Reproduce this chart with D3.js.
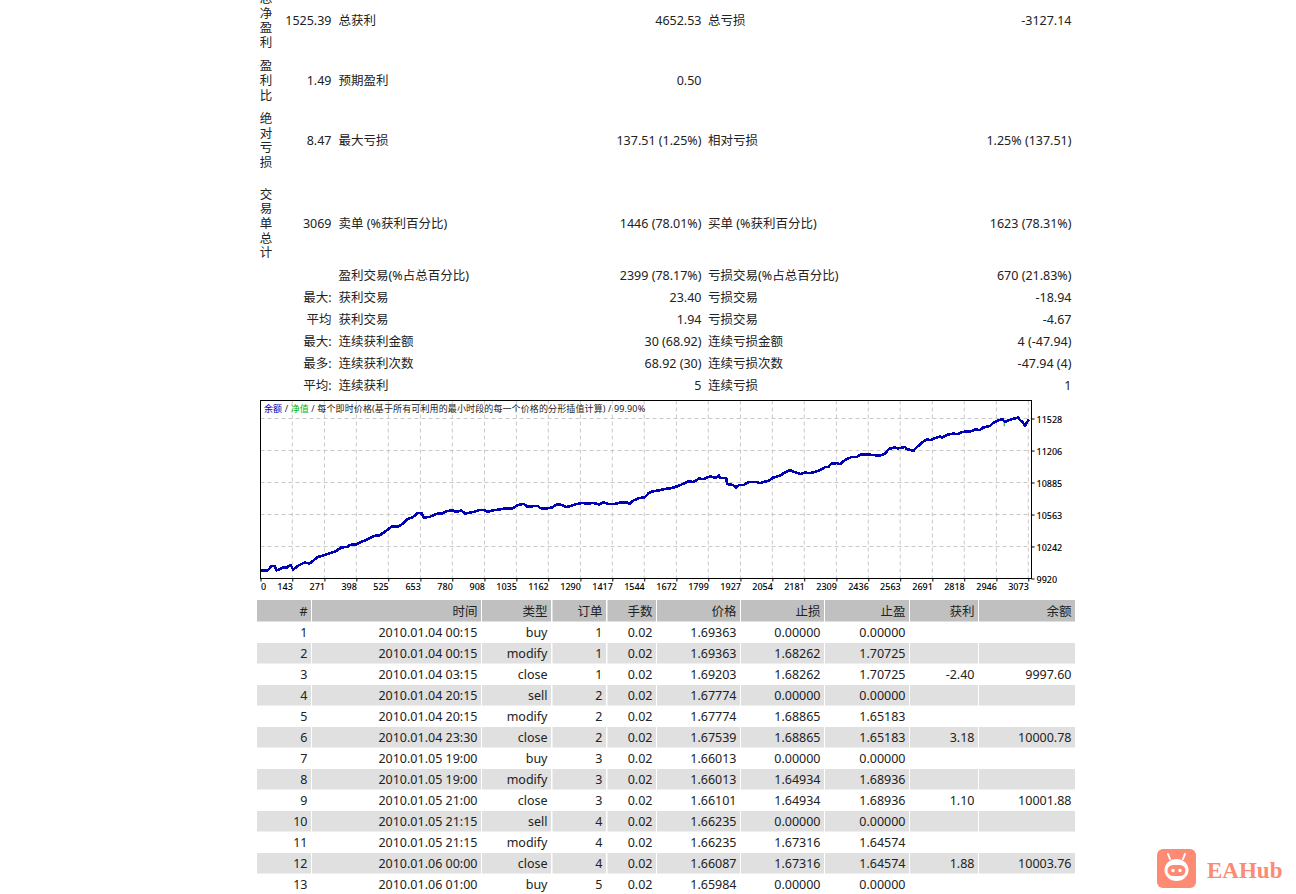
<!DOCTYPE html>
<html>
<head>
<meta charset="utf-8">
<script src="https://cdn.jsdelivr.net/npm/d3@7/dist/d3.min.js"></script>
<style>
html, body { margin: 0; padding: 0; background: #fff; overflow: hidden; }
svg { display: block; }
text { font-family: "Noto Sans", "Noto Sans CJK SC", sans-serif; font-size: 12.5px; fill: #222; }
.grid line { stroke: #c8c8c8; stroke-dasharray: 4 3; }
.axis path { display: none; }
.axis line { stroke: #000; }
.axis text { font-size: 9px; fill: #000; font-weight: 500; }
</style>
</head>
<body>
<div id="report"></div>
<script>
// summary block
var summaryHeads = ["总净盈利", "盈利比", "绝对亏损", "交易单总计", "", "", "", "", "", ""];
var summaryFirst = ["1525.39", "1.49", "8.47", "3069", "", "最大:", "平均", "最大:", "最多:", "平均:"];
var summaryLabelA = ["总获利", "预期盈利", "最大亏损", "卖单 (%获利百分比)", "盈利交易(%占总百分比)", "获利交易", "获利交易", "连续获利金额", "连续获利次数", "连续获利"];
var summaryValueA = ["4652.53", "0.50", "137.51 (1.25%)", "1446 (78.01%)", "2399 (78.17%)", "23.40", "1.94", "30 (68.92)", "68.92 (30)", "5"];
var summaryLabelB = ["总亏损", "", "相对亏损", "买单 (%获利百分比)", "亏损交易(%占总百分比)", "亏损交易", "亏损交易", "连续亏损金额", "连续亏损次数", "连续亏损"];
var summaryValueB = ["-3127.14", "", "1.25% (137.51)", "1623 (78.31%)", "670 (21.83%)", "-18.94", "-4.67", "4 (-47.94)", "-47.94 (4)", "1"];

// chart: trade number and balance
var tradeNo = [1,19,30,51,64,71,82,101,116,136,146,168,192,212,245,278,318,338,362,372,398,424,444,468,491,511,531,544,564,580,601,624,643,659,667,690,716,743,756,783,795,815,831,864,890,910,919,943,970,990,1016,1043,1065,1079,1102,1122,1129,1156,1176,1196,1215,1235,1268,1299,1315,1341,1364,1381,1401,1428,1454,1474,1485,1501,1527,1547,1563,1580,1600,1627,1647,1666,1693,1719,1739,1763,1782,1806,1830,1841,1846,1870,1875,1896,1909,1922,1941,1958,1992,2005,2025,2038,2058,2085,2104,2124,2144,2167,2184,2204,2224,2244,2264,2277,2290,2310,2323,2343,2370,2390,2410,2436,2463,2483,2503,2518,2542,2555,2582,2589,2615,2635,2651,2669,2682,2702,2722,2731,2748,2775,2794,2808,2841,2861,2881,2894,2921,2930,2954,2970,2980,3000,3027,3033,3040,3049,3060,3067,3076];
var balance = [9996,10003,9996,10047,10044,10003,10010,10031,10027,10057,10010,10051,10081,10071,10137,10161,10197,10232,10238,10258,10262,10295,10315,10348,10355,10388,10429,10446,10439,10466,10516,10539,10579,10573,10533,10539,10569,10576,10596,10606,10589,10603,10573,10589,10609,10606,10589,10606,10613,10627,10619,10660,10670,10640,10647,10647,10627,10623,10634,10664,10660,10637,10664,10680,10670,10680,10664,10684,10670,10670,10687,10684,10670,10704,10730,10737,10782,10797,10804,10820,10825,10838,10865,10895,10891,10925,10918,10948,10931,10958,10931,10931,10868,10861,10835,10861,10861,10888,10888,10878,10895,10901,10935,10955,10985,11008,10988,10971,10985,10978,10991,11008,11039,11042,11076,11079,11069,11109,11142,11142,11169,11166,11159,11156,11176,11222,11237,11227,11243,11222,11202,11253,11287,11320,11310,11330,11347,11337,11363,11377,11370,11393,11397,11417,11413,11438,11454,11478,11508,11521,11494,11514,11534,11538,11511,11494,11454,11488,11518];
var equityTrade = [2977, 2977];
var equityValue = [11510, 11450];
var xTicks = [0,143,271,398,525,653,780,908,1035,1162,1290,1417,1544,1672,1799,1927,2054,2181,2309,2436,2563,2691,2818,2946,3073];
var yTicks = [9920,10242,10563,10885,11206,11528];

// trade list
var tableHeads = ["#", "时间", "类型", "订单", "手数", "价格", "止损", "止盈", "获利", "余额"];
var rowNo = ["1","2","3","4","5","6","7","8","9","10","11","12","13"];
var rowTime = ["2010.01.04 00:15","2010.01.04 00:15","2010.01.04 03:15","2010.01.04 20:15","2010.01.04 20:15","2010.01.04 23:30","2010.01.05 19:00","2010.01.05 19:00","2010.01.05 21:00","2010.01.05 21:15","2010.01.05 21:15","2010.01.06 00:00","2010.01.06 01:00"];
var rowType = ["buy","modify","close","sell","modify","close","buy","modify","close","sell","modify","close","buy"];
var rowOrder = ["1","1","1","2","2","2","3","3","3","4","4","4","5"];
var rowLots = ["0.02","0.02","0.02","0.02","0.02","0.02","0.02","0.02","0.02","0.02","0.02","0.02","0.02"];
var rowPrice = ["1.69363","1.69363","1.69203","1.67774","1.67774","1.67539","1.66013","1.66013","1.66101","1.66235","1.66235","1.66087","1.65984"];
var rowStop = ["0.00000","1.68262","1.68262","0.00000","1.68865","1.68865","0.00000","1.64934","1.64934","0.00000","1.67316","1.67316","0.00000"];
var rowTake = ["0.00000","1.70725","1.70725","0.00000","1.65183","1.65183","0.00000","1.68936","1.68936","0.00000","1.64574","1.64574","0.00000"];
var rowProfit = ["","","-2.40","","","3.18","","","1.10","","","1.88",""];
var rowBalance = ["","","9997.60","","","10000.78","","","10001.88","","","10003.76",""];

var svg = d3.select("#report").append("svg").attr("width", 1296).attr("height", 894);

draw_summary();
draw_chart();
draw_table();
draw_logo();

function label(g, x, y, str, anchor) {
    return g.append("text")
        .attr("x", x).attr("y", y).attr("dy", "0.36em")
        .attr("text-anchor", anchor || "start")
        .text(str);
}

function draw_summary() {
    var g = svg.append("g");
    var rowY = [20.5, 80.5, 140.5, 223.5, 275.5, 297.5, 319.5, 341.5, 363.5, 385.5];
    var lineGap = 14.7;
    summaryHeads.forEach(function(head, i) {
        // the narrow first column wraps every character on its own line
        var chars = Array.from(head);
        chars.forEach(function(c, k) {
            label(g, 266, rowY[i] + (k - (chars.length - 1) / 2) * lineGap, c, "middle");
        });
        label(g, 331.5, rowY[i], summaryFirst[i], "end");
        label(g, 338.5, rowY[i], summaryLabelA[i]);
        label(g, 701.5, rowY[i], summaryValueA[i], "end");
        label(g, 708, rowY[i], summaryLabelB[i]);
        label(g, 1071.5, rowY[i], summaryValueB[i], "end");
    });
}

function draw_chart() {
    var left = 260.5, right = 1031.5, top = 400.5, bottom = 578.5;

    // MT4 spaces the first label unevenly, so x gets one extra stop
    var x = d3.scaleLinear().domain([0, 143, 3073, 3085]).range([left, 292.3, 1028.3, right]);
    var y = d3.scaleLinear().domain([9920, 11528]).range([bottom, 418.5]);

    var g = svg.append("g");

    g.append("g").attr("class", "grid").selectAll("line")
        .data(yTicks.slice(1)).enter().append("line")
        .attr("x1", left).attr("x2", right)
        .attr("y1", function(d) { return y(d); })
        .attr("y2", function(d) { return y(d); });
    g.append("g").attr("class", "grid").selectAll("line")
        .data(xTicks.slice(1)).enter().append("line")
        .attr("y1", top).attr("y2", bottom)
        .attr("x1", function(d) { return x(d); })
        .attr("x2", function(d) { return x(d); });

    var line = d3.line()
        .x(function(d) { return x(d[0]); })
        .y(function(d) { return y(d[1]); });

    g.append("path")
        .datum(d3.zip(equityTrade, equityValue))
        .attr("fill", "none").attr("stroke", "#00b400").attr("stroke-width", 1)
        .attr("d", line);

    // no antialiasing, the terminal draws this line jagged
    g.append("path")
        .datum(d3.zip(tradeNo, balance))
        .attr("fill", "none").attr("stroke", "#0000b4")
        .attr("stroke-width", 2.6).attr("stroke-linejoin", "round")
        .attr("shape-rendering", "crispEdges")
        .attr("d", line);

    g.append("rect")
        .attr("x", left).attr("y", top)
        .attr("width", right - left).attr("height", bottom - top)
        .attr("fill", "none").attr("stroke", "#000");

    var xAxis = d3.axisBottom(x).tickValues(xTicks).tickSize(3).tickPadding(2).tickFormat(d3.format("d"));
    var yAxis = d3.axisRight(y).tickValues(yTicks).tickSize(3).tickPadding(2).tickFormat(d3.format("d"));

    g.append("g").attr("class", "axis").attr("transform", "translate(0," + bottom + ")").call(xAxis)
        .selectAll("text")
        .attr("text-anchor", function(d) { return d === 0 ? "start" : "end"; })
        .attr("y", 5);
    g.append("g").attr("class", "axis").attr("transform", "translate(" + right + ",0)").call(yAxis)
        .selectAll("text").attr("x", 5).attr("y", 1);

    var title = g.append("text").attr("x", 264).attr("y", 409).attr("dy", "0.36em")
        .style("font-size", "9px").style("letter-spacing", "0.12px");
    title.append("tspan").style("fill", "#0000b4").text("余额");
    title.append("tspan").text(" / ");
    title.append("tspan").style("fill", "#00b400").text("净值");
    title.append("tspan").text(" / 每个即时价格(基于所有可利用的最小时段的每一个价格的分形插值计算) / 99.90%");
}

function draw_table() {
    var g = svg.append("g");
    var colLeft = [257, 312, 482, 552.5, 607.5, 657, 741, 825, 910, 979];
    var colRight = [311, 481, 551, 606, 656, 740, 824, 909, 978, 1075];
    var columns = [rowNo, rowTime, rowType, rowOrder, rowLots, rowPrice, rowStop, rowTake, rowProfit, rowBalance];

    tableHeads.forEach(function(head, c) {
        g.append("rect")
            .attr("x", colLeft[c]).attr("y", 600)
            .attr("width", colRight[c] - colLeft[c]).attr("height", 21.5)
            .attr("fill", "#c0c0c0");
        label(g, colRight[c] - 3.5, 611, head, "end");
    });

    rowNo.forEach(function(n, r) {
        var top = 622 + 21 * r;
        if (r % 2 === 1) {
            tableHeads.forEach(function(head, c) {
                g.append("rect")
                    .attr("x", colLeft[c]).attr("y", top)
                    .attr("width", colRight[c] - colLeft[c]).attr("height", 20.5)
                    .attr("fill", "#e0e0e0");
            });
        }
        columns.forEach(function(col, c) {
            label(g, colRight[c] - 3.5, top + 10.5, col[r], "end");
        });
    });
}

function draw_logo() {
    var g = svg.append("g");
    g.append("rect").attr("x", 1157).attr("y", 849).attr("width", 39).attr("height", 39).attr("rx", 6).attr("fill", "#fd8a72");
    // robot head
    g.append("ellipse").attr("cx", 1176.5).attr("cy", 870).attr("rx", 12).attr("ry", 11).attr("fill", "#fff");
    g.append("rect").attr("x", 1167.5).attr("y", 865).attr("width", 18).attr("height", 11).attr("rx", 5.5).attr("fill", "#fd8a72");
    g.append("circle").attr("cx", 1173).attr("cy", 870.5).attr("r", 1.7).attr("fill", "#fff");
    g.append("circle").attr("cx", 1180).attr("cy", 870.5).attr("r", 1.7).attr("fill", "#fff");
    g.append("path").attr("d", "M1170 859L1168 854M1183 859L1185 854")
        .attr("stroke", "#fff").attr("stroke-width", 2).attr("stroke-linecap", "round");
    g.append("text").attr("x", 1207).attr("y", 878)
        .style("font-family", "'Liberation Serif', serif").style("font-size", "23px").style("font-weight", "bold").style("fill", "#fd8a72")
        .text("EAHub");
}
</script>
</body>
</html>
